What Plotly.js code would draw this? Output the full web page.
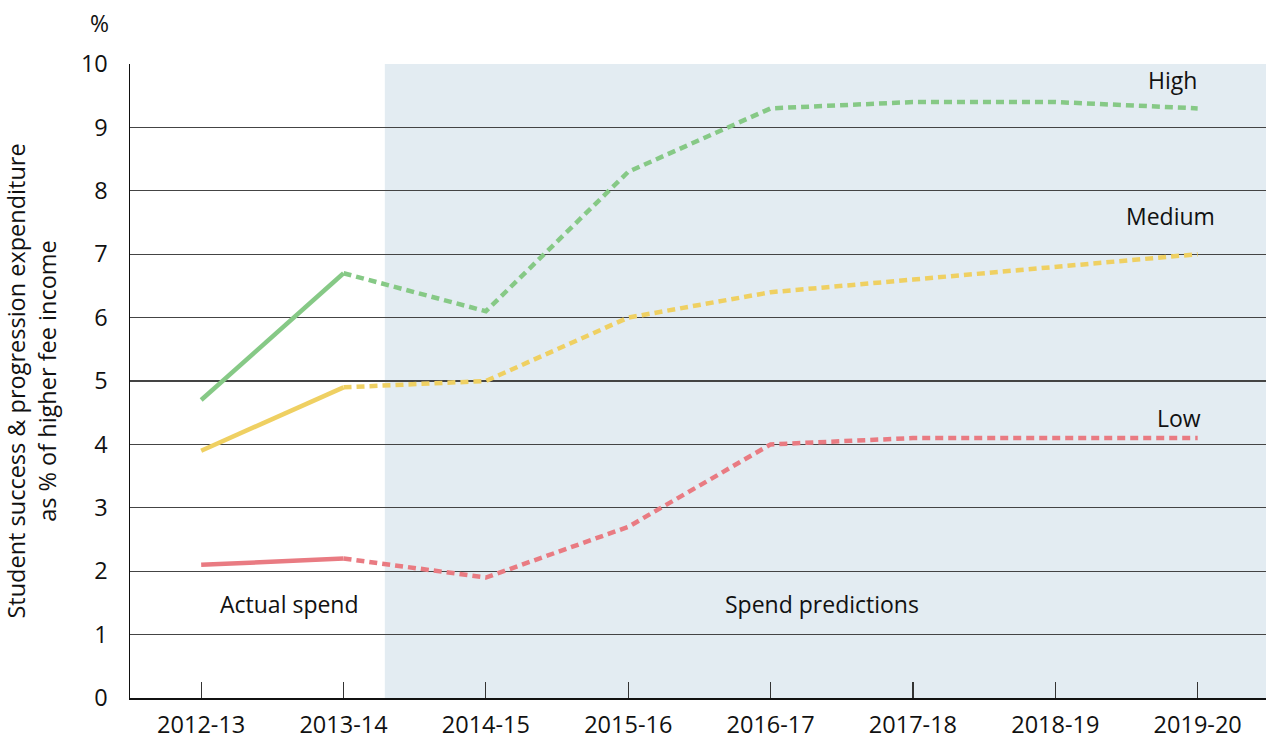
<!DOCTYPE html>
<html>
<head>
<meta charset="utf-8">
<script src="https://cdn.plot.ly/plotly-3.0.1.min.js"></script>
<style>html,body{margin:0;padding:0;background:#fff}#chart{width:1266px;height:744px}</style>
</head>
<body>
<div id="chart"></div>
<script>
const years = ["2012-13","2013-14","2014-15","2015-16","2016-17","2017-18","2018-19","2019-20"];
const high = [4.7, 6.7, 6.1, 8.3, 9.3, 9.4, 9.4, 9.3];
const medium = [3.9, 4.9, 5.0, 6.0, 6.4, 6.6, 6.8, 7.0];
const low = [2.1, 2.2, 1.9, 2.7, 4.0, 4.1, 4.1, 4.1];
const actualCount = 2; // first two years are actual spend
const seriesNames = ["High", "Medium", "Low"];
const colors = ["#86c986", "#efd062", "#e97b82"];

const series = [high, medium, low];
const traces = [];
series.forEach((vals, i) => {
  traces.push({
    x: years.slice(0, actualCount), y: vals.slice(0, actualCount),
    type: 'scatter', mode: 'lines', name: seriesNames[i],
    line: {color: colors[i], width: 4.5}, showlegend: false, hoverinfo: 'skip'
  });
  traces.push({
    x: years.slice(actualCount - 1), y: vals.slice(actualCount - 1),
    type: 'scatter', mode: 'lines', name: seriesNames[i] + ' prediction',
    line: {color: colors[i], width: 4.5, dash: '8px,5px'}, showlegend: false, hoverinfo: 'skip'
  });
});

const font = {family: '"Open Sans", "Noto Sans", sans-serif', size: 23.5, color: '#111'};
const annFont = {family: '"Open Sans", "Noto Sans", sans-serif', size: 23, color: '#111'};

const layout = {
  width: 1266, height: 744,
  margin: {l: 130, r: 0, t: 64, b: 46},
  paper_bgcolor: '#fff', plot_bgcolor: 'rgba(0,0,0,0)',
  font: font,
  showlegend: false,
  xaxis: {
    type: 'category', range: [-0.5, 7.48],
    showgrid: false, zeroline: false,
    showline: true, linecolor: '#111', linewidth: 1.5,
    ticks: 'inside', ticklen: 16, tickcolor: '#333', tickwidth: 1.2,
    ticklabelstandoff: 5,
    tickfont: font
  },
  yaxis: {
    range: [0, 10], dtick: 1, tick0: 0,
    showgrid: true, gridcolor: '#444', gridwidth: 1.2,
    zeroline: false, showline: true, linecolor: '#111', linewidth: 1.5,
    ticks: '', ticklabelstandoff: 16,
    tickfont: font,
    title: {text: 'Student success & progression expenditure<br>as % of higher fee income', font: font, standoff: 20}
  },
  shapes: [{
    type: 'rect', xref: 'x', yref: 'paper', x0: 1.29, x1: 7.5, y0: 0, y1: 1,
    fillcolor: '#e3ecf2', line: {width: 0}, layer: 'below'
  }],
  annotations: [
    {text: '%', xref: 'paper', yref: 'paper', x: -0.027, y: 1.065, showarrow: false, font: annFont, xanchor: 'center', yanchor: 'middle'},
    {text: 'High', xref: 'x', yref: 'y', x: 6.82, y: 9.75, showarrow: false, font: annFont},
    {text: 'Medium', xref: 'x', yref: 'y', x: 6.81, y: 7.6, showarrow: false, font: annFont},
    {text: 'Low', xref: 'x', yref: 'y', x: 6.87, y: 4.42, showarrow: false, font: annFont},
    {text: 'Actual spend', xref: 'x', yref: 'y', x: 0.62, y: 1.49, showarrow: false, font: annFont},
    {text: 'Spend predictions', xref: 'x', yref: 'y', x: 4.36, y: 1.49, showarrow: false, font: annFont}
  ]
};

Plotly.newPlot('chart', traces, layout, {displayModeBar: false, staticPlot: true});
</script>
</body>
</html>
